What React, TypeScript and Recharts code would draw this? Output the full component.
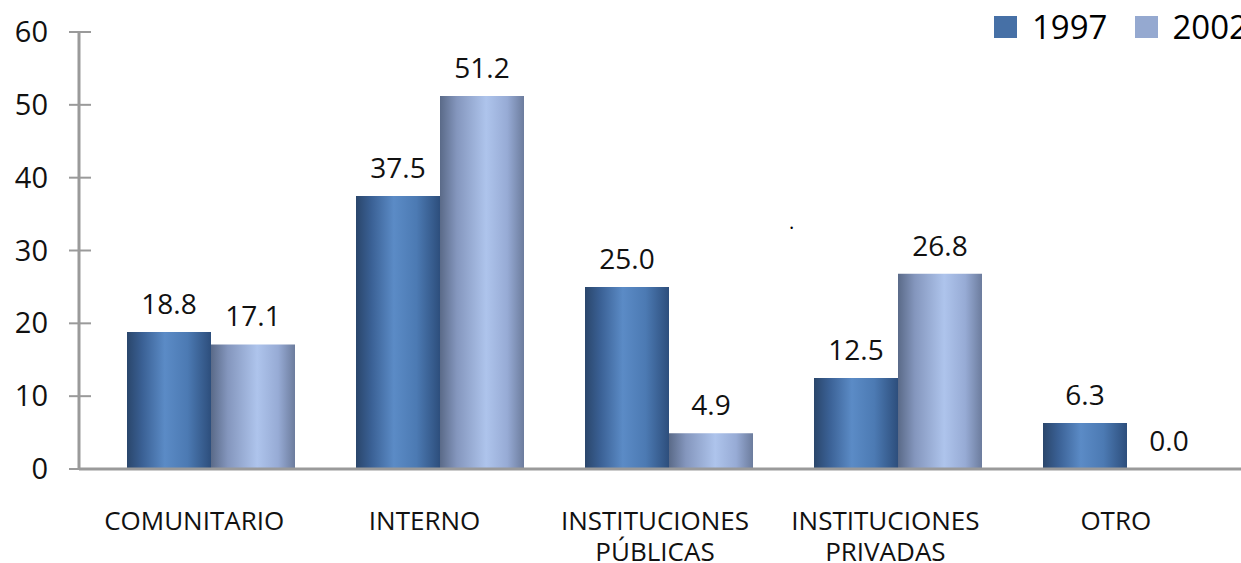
import React from 'react';
import { BarChart, Bar, XAxis, YAxis, LabelList } from 'recharts';

const categories = ['COMUNITARIO', 'INTERNO', 'INSTITUCIONES PÚBLICAS', 'INSTITUCIONES PRIVADAS', 'OTRO'];
const values1997 = [18.8, 37.5, 25.0, 12.5, 6.3];
const values2002 = [17.1, 51.2, 4.9, 26.8, 0.0];
const yTicks = [0, 10, 20, 30, 40, 50, 60];

const chartData = categories.map((name, i) => ({
  name,
  y1997: values1997[i],
  y2002: values2002[i],
}));

const FONT = '"Open Sans", "DejaVu Sans", sans-serif';
const AXIS_COLOR = '#9a9a9a';

// y ticks: the tick line crosses the axis on both sides
const YTick = (props: any) => {
  const { x, y, payload } = props;
  return (
    <g>
      <line x1={x - 10} x2={x + 12} y1={y} y2={y} stroke={AXIS_COLOR} strokeWidth={2} />
      <text x={x - 31} y={y + 10} textAnchor="end" fontSize={29} fill="#111" fontFamily={FONT}>
        {payload.value}
      </text>
    </g>
  );
};

// x labels split in two lines when there are two words
const XTick = (props: any) => {
  const { x, y, payload } = props;
  const words = String(payload.value).split(' ');
  return (
    <g>
      {words.map((w, i) => (
        <text key={i} x={x} y={y + 61 + i * 31} textAnchor="middle" fontSize={26} fill="#111" fontFamily={FONT}>
          {w}
        </text>
      ))}
    </g>
  );
};

const fmt = (v: any) => Number(v).toFixed(1);

export default function App() {
  return (
    <div style={{ position: 'absolute', left: 0, top: 0, width: 1241, height: 563, background: '#fff', overflow: 'hidden' }}>
      <BarChart
        width={1241}
        height={563}
        data={chartData}
        margin={{ top: 32, right: 0, left: 0, bottom: 0 }}
        barCategoryGap={31}
        barGap={0}
      >
        <defs>
          <linearGradient id="g1997" x1="0" y1="0" x2="1" y2="0">
            <stop offset="0%" stopColor="#2a466b" />
            <stop offset="18%" stopColor="#3a6094" />
            <stop offset="45%" stopColor="#5b8bc6" />
            <stop offset="72%" stopColor="#4c7ab3" />
            <stop offset="100%" stopColor="#2d4e7c" />
          </linearGradient>
          <linearGradient id="g2002" x1="0" y1="0" x2="1" y2="0">
            <stop offset="0%" stopColor="#5a6a88" />
            <stop offset="20%" stopColor="#8496bd" />
            <stop offset="55%" stopColor="#aec4ec" />
            <stop offset="80%" stopColor="#97abd5" />
            <stop offset="100%" stopColor="#6c7c9d" />
          </linearGradient>
        </defs>
        <XAxis
          xAxisId="labels"
          dataKey="name"
          height={94}
          padding={{ left: 0, right: 10 }}
          axisLine={{ stroke: AXIS_COLOR, strokeWidth: 3 }}
          tickLine={false}
          tickSize={0}
          tickMargin={0}
          interval={0}
          tick={<XTick />}
        />
        <XAxis xAxisId="bars" dataKey="name" hide height={0} padding={{ left: 17, right: 0 }} />
        <YAxis
          width={79}
          domain={[0, 60]}
          ticks={yTicks}
          axisLine={{ stroke: AXIS_COLOR, strokeWidth: 3 }}
          tickLine={false}
          tickSize={0}
          tickMargin={0}
          tick={<YTick />}
          interval={0}
        />
        <Bar xAxisId="bars" dataKey="y1997" fill="url(#g1997)" isAnimationActive={false}>
          <LabelList dataKey="y1997" position="top" offset={18} formatter={fmt} fontSize={28} fill="#111" fontFamily={FONT} />
        </Bar>
        <Bar xAxisId="bars" dataKey="y2002" fill="url(#g2002)" minPointSize={0.01} isAnimationActive={false}>
          <LabelList dataKey="y2002" position="top" offset={18} formatter={fmt} fontSize={28} fill="#111" fontFamily={FONT} />
        </Bar>
      </BarChart>
      <div style={{ position: 'absolute', left: 994, top: 4, display: 'flex', alignItems: 'center', fontFamily: FONT, fontSize: 33, color: '#000', whiteSpace: 'nowrap' }}>
        <span style={{ width: 23, height: 22, background: '#4670a6', display: 'inline-block', marginRight: 15 }} />
        <span style={{ marginRight: 28 }}>1997</span>
        <span style={{ width: 23, height: 22, background: '#95a9d0', display: 'inline-block', marginRight: 14 }} />
        <span>2002</span>
      </div>
      <div style={{ position: 'absolute', left: 789, top: 208, fontFamily: FONT, fontSize: 20, color: '#000' }}>.</div>
    </div>
  );
}
